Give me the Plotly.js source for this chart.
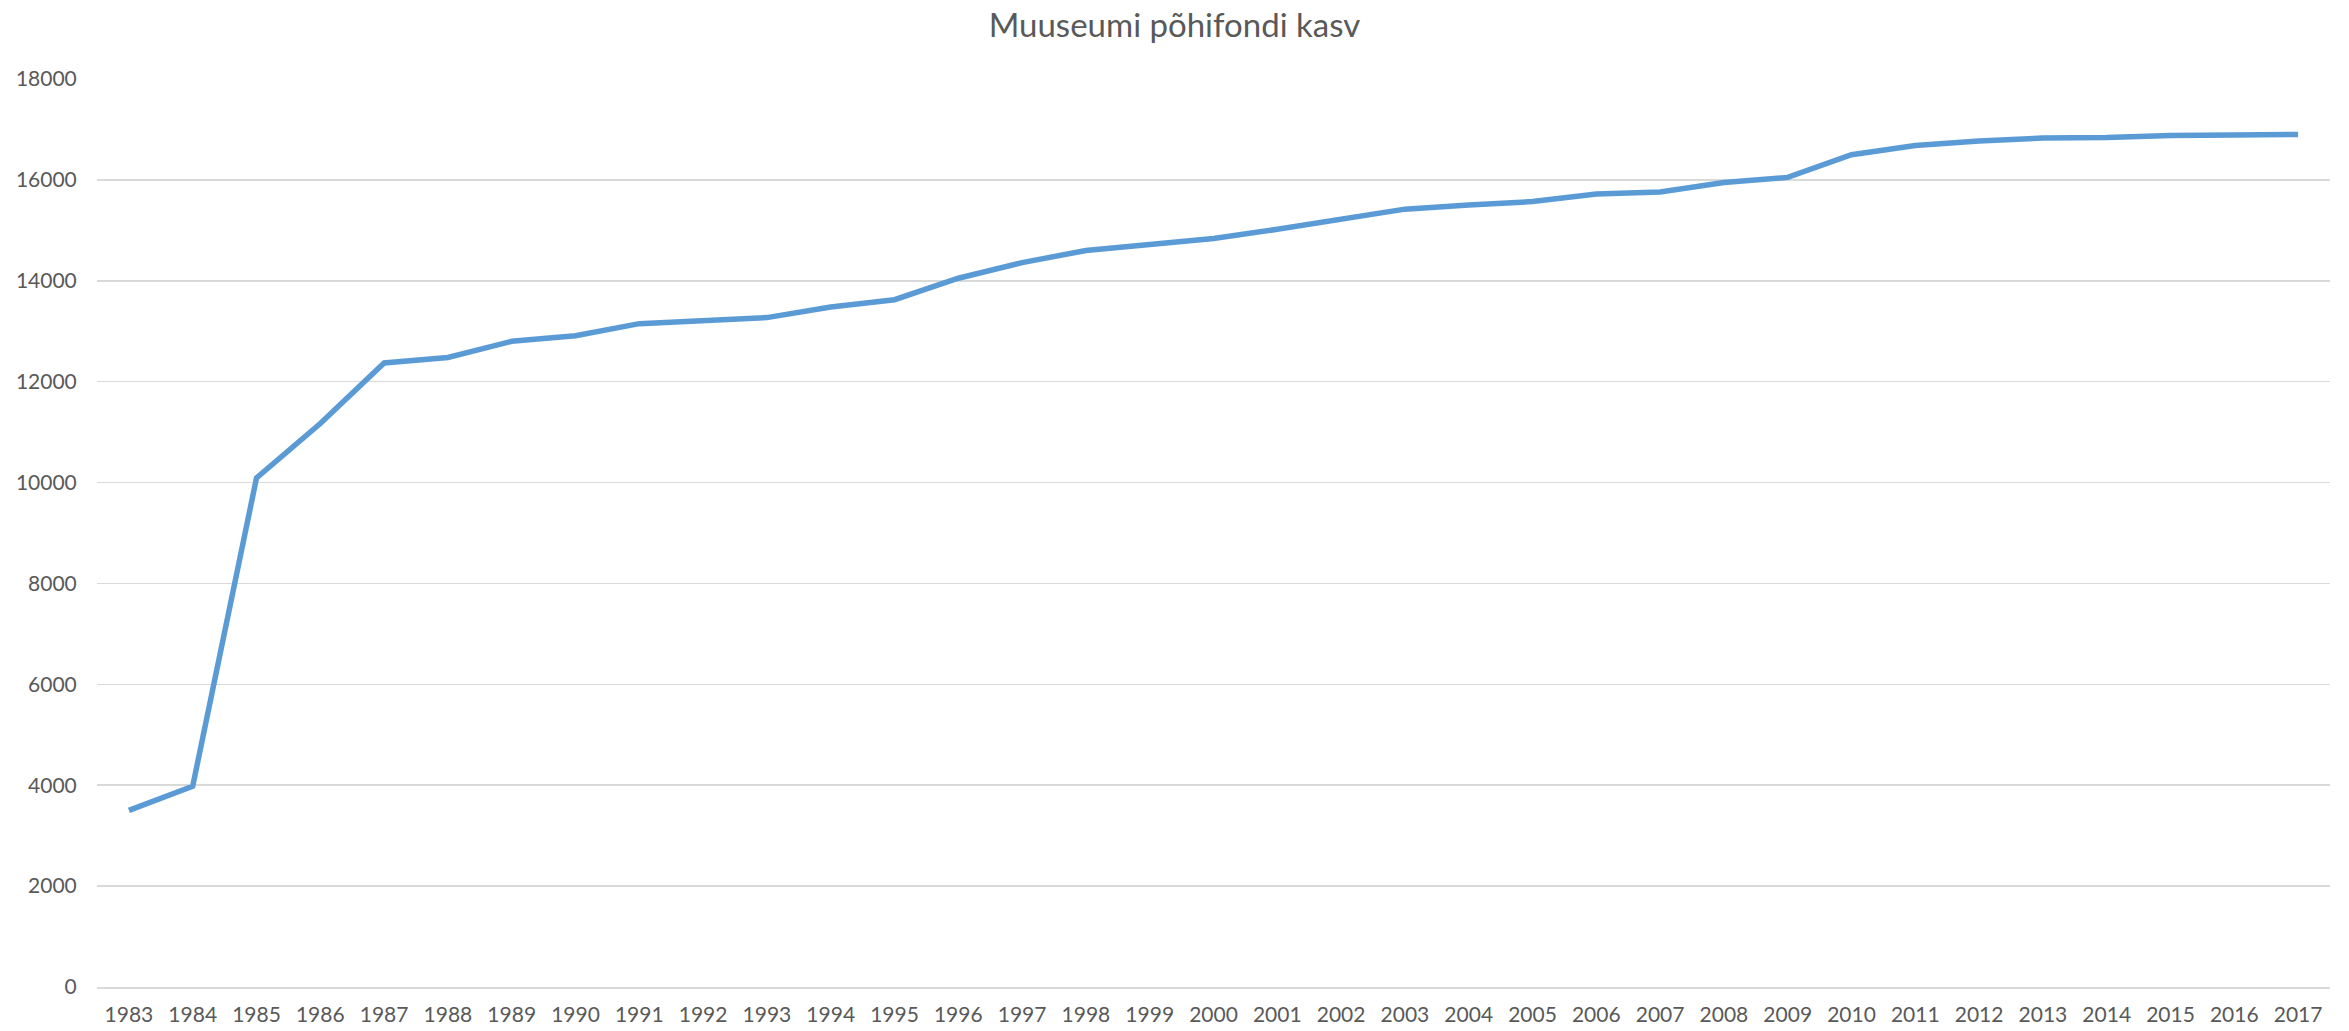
<!DOCTYPE html>
<html>
<head>
<meta charset="utf-8">
<script src="https://cdn.plot.ly/plotly-3.0.1.min.js"></script>
<style>
  html, body { margin: 0; padding: 0; background: #ffffff; }
  #chart { width: 2349px; height: 1031px; }
</style>
</head>
<body>
<div id="chart"></div>
<script>
const chartTitle = "Muuseumi põhifondi kasv";
const years = ["1983","1984","1985","1986","1987","1988","1989","1990","1991","1992",
               "1993","1994","1995","1996","1997","1998","1999","2000","2001","2002",
               "2003","2004","2005","2006","2007","2008","2009","2010","2011","2012",
               "2013","2014","2015","2016","2017"];
const values = [3500, 3980, 10090, 11170, 12370, 12480, 12800, 12910, 13150, 13210,
                13270, 13480, 13625, 14050, 14360, 14600, 14710, 14840, 15020, 15220,
                15420, 15500, 15570, 15720, 15760, 15950, 16050, 16500, 16680, 16770,
                16830, 16840, 16880, 16890, 16900];
const yTicks = [0, 2000, 4000, 6000, 8000, 10000, 12000, 14000, 16000, 18000];

const textColor = "#595959";
const gridColor = "#D9D9D9";
const fontFamily = "Lato, 'Open Sans', sans-serif";

const trace = {
  type: "scatter",
  mode: "lines",
  x: years,
  y: values,
  line: { color: "#5B9BD5", width: 5.5, shape: "linear" },
  hoverinfo: "x+y"
};

const layout = {
  width: 2349,
  height: 1031,
  paper_bgcolor: "#ffffff",
  plot_bgcolor: "#ffffff",
  margin: { l: 97, r: 19, t: 79, b: 44, pad: 0 },
  showlegend: false,
  title: {
    text: chartTitle,
    font: { family: fontFamily, size: 33, color: textColor },
    x: 0.5, xanchor: "center",
    y: 1 - 25 / 1031, yref: "container", yanchor: "middle"
  },
  xaxis: {
    type: "category",
    range: [-0.5, years.length - 0.5],
    showgrid: false,
    zeroline: false,
    showline: true,
    linecolor: gridColor,
    linewidth: 1.5,
    ticks: "outside",
    ticklen: 8,
    tickcolor: "rgba(0,0,0,0)",
    tickfont: { family: fontFamily, size: 21, color: textColor },
    tickangle: 0,
    fixedrange: true
  },
  yaxis: {
    range: [0, 18000],
    tickvals: yTicks,
    ticktext: yTicks.map(String),
    showgrid: true,
    gridcolor: gridColor,
    gridwidth: 1.5,
    zeroline: false,
    showline: false,
    ticks: "outside",
    ticklen: 15,
    tickcolor: "rgba(0,0,0,0)",
    tickfont: { family: fontFamily, size: 21, color: textColor },
    fixedrange: true
  }
};

Plotly.newPlot("chart", [trace], layout, { displayModeBar: false, staticPlot: true });
</script>
</body>
</html>
